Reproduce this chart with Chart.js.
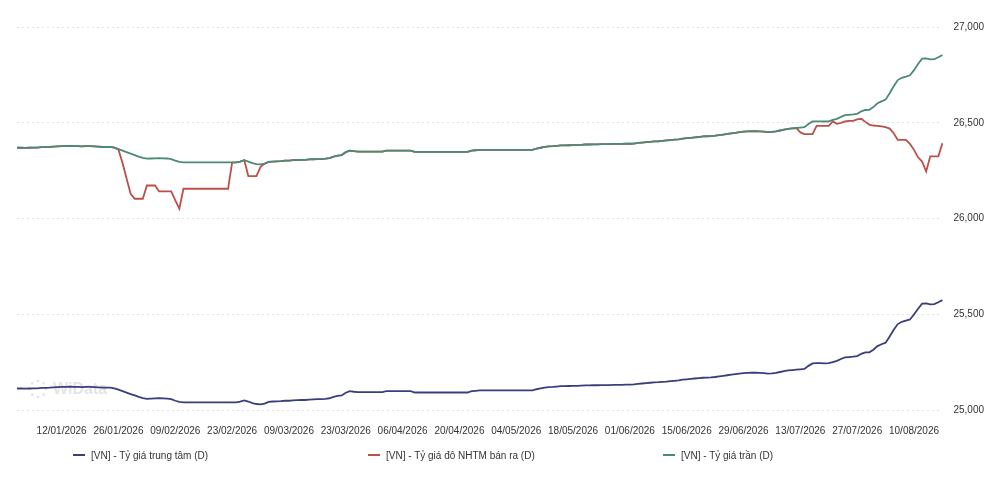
<!DOCTYPE html>
<html>
<head>
<meta charset="utf-8">
<script src="https://cdn.jsdelivr.net/npm/chart.js@4.4.1/dist/chart.umd.min.js"></script>
<style>
  html, body { margin: 0; padding: 0; background: #fff; }
  #wrap { position: relative; width: 1000px; height: 503px; }
  #legend {
    position: absolute; left: 73px; top: 448px;
    display: grid; grid-template-columns: repeat(3, 295px);
    font: 10px "Liberation Sans", Arial, sans-serif; color: #333;
  }
  #legend span.item { display: flex; align-items: center; height: 14px; }
  #legend span.mark { display: inline-block; width: 12px; height: 2px; margin-right: 6px; }
</style>
</head>
<body>
<div id="wrap">
  <canvas id="chart" width="1000" height="503"></canvas>
  <div id="legend"></div>
</div>
<script>
// daily categories, 01/01/2026 .. 17/08/2026
const startDate = Date.UTC(2026, 0, 1);
const dayCount = 229;
const dateLabels = [];
for (let i = 0; i < dayCount; i++) {
  const d = new Date(startDate + i * 86400000);
  const dd = String(d.getUTCDate()).padStart(2, "0");
  const mm = String(d.getUTCMonth() + 1).padStart(2, "0");
  dateLabels.push(dd + "/" + mm + "/" + d.getUTCFullYear());
}

const tickLabels = [
  "12/01/2026", "26/01/2026", "09/02/2026", "23/02/2026", "09/03/2026",
  "23/03/2026", "06/04/2026", "20/04/2026", "04/05/2026", "18/05/2026",
  "01/06/2026", "15/06/2026", "29/06/2026", "13/07/2026", "27/07/2026",
  "10/08/2026"
];

const yTicks = [25000, 25500, 26000, 26500, 27000];

const seriesNames = [
  "[VN] - Tỷ giá trung tâm (D)",
  "[VN] - Tỷ giá đô NHTM bán ra (D)",
  "[VN] - Tỷ giá trần (D)"
];

// Tỷ giá trung tâm
const centralRate = [
  25114, 25114, 25113, 25114, 25115, 25115, 25117, 25117, 25118, 25120,
  25121, 25122, 25122, 25123, 25122, 25122, 25121, 25122, 25122, 25121,
  25120, 25118, 25118, 25118, 25115, 25108, 25100, 25092, 25085, 25078,
  25070, 25064, 25060, 25061, 25062, 25063, 25062, 25061, 25058, 25050,
  25044, 25042, 25042, 25042, 25042, 25042, 25042, 25042, 25042, 25042,
  25042, 25042, 25042, 25042, 25042, 25046, 25052, 25046, 25038, 25033,
  25031, 25035, 25044, 25046, 25047, 25048, 25050, 25050, 25052, 25053,
  25054, 25054, 25056, 25057, 25058, 25058, 25060, 25063, 25070, 25075,
  25078, 25092, 25100, 25097, 25095, 25095, 25095, 25095, 25095, 25095,
  25095, 25100, 25100, 25100, 25100, 25100, 25100, 25100, 25093, 25093,
  25093, 25093, 25093, 25093, 25093, 25093, 25093, 25093, 25093, 25093,
  25093, 25093, 25100, 25102, 25104, 25104, 25104, 25104, 25104, 25104,
  25104, 25104, 25104, 25104, 25104, 25104, 25104, 25104, 25110, 25114,
  25118, 25121, 25122, 25124, 25126, 25126, 25127, 25128, 25128, 25129,
  25130, 25130, 25131, 25131, 25132, 25132, 25132, 25133, 25133, 25133,
  25134, 25134, 25135, 25138, 25140, 25142, 25144, 25146, 25147, 25149,
  25150, 25152, 25154, 25156, 25160, 25162, 25164, 25166, 25168, 25170,
  25171, 25172, 25174, 25177, 25180, 25183, 25186, 25189, 25192, 25194,
  25195, 25196, 25196, 25195, 25194, 25192, 25193, 25195, 25200, 25204,
  25208, 25210, 25212, 25214, 25216, 25232, 25245, 25246, 25246, 25245,
  25246, 25252, 25258, 25268, 25276, 25278, 25280, 25283, 25295, 25302,
  25303, 25316, 25335, 25345, 25353, 25385, 25420, 25450, 25462, 25468,
  25474, 25500, 25530, 25557, 25558, 25553, 25554, 25564, 25575
];

// Tỷ giá đô NHTM bán ra
const bankSellRate = [
  26370, 26370, 26369, 26370, 26371, 26371, 26373, 26373, 26374, 26376,
  26377, 26378, 26378, 26379, 26378, 26378, 26377, 26378, 26378, 26377,
  26376, 26374, 26374, 26374, 26371, 26360, 26290, 26210, 26130, 26104,
  26104, 26104, 26173, 26173, 26173, 26142, 26142, 26142, 26142, 26095,
  26052, 26156, 26156, 26156, 26156, 26156, 26156, 26156, 26156, 26156,
  26156, 26156, 26156, 26292, 26294, 26298, 26305, 26222, 26222, 26222,
  26270, 26287, 26296, 26298, 26299, 26300, 26303, 26303, 26305, 26306,
  26307, 26307, 26309, 26310, 26311, 26311, 26313, 26316, 26324, 26329,
  26332, 26347, 26355, 26352, 26350, 26350, 26350, 26350, 26350, 26350,
  26350, 26355, 26355, 26355, 26355, 26355, 26355, 26355, 26348, 26348,
  26348, 26348, 26348, 26348, 26348, 26348, 26348, 26348, 26348, 26348,
  26348, 26348, 26355, 26357, 26359, 26359, 26359, 26359, 26359, 26359,
  26359, 26359, 26359, 26359, 26359, 26359, 26359, 26359, 26366, 26370,
  26374, 26377, 26378, 26380, 26382, 26382, 26383, 26384, 26384, 26385,
  26387, 26387, 26388, 26388, 26389, 26389, 26389, 26390, 26390, 26390,
  26391, 26391, 26392, 26395, 26397, 26399, 26401, 26403, 26404, 26406,
  26408, 26410, 26412, 26414, 26418, 26420, 26422, 26424, 26426, 26429,
  26430, 26431, 26433, 26436, 26439, 26442, 26445, 26448, 26452, 26454,
  26455, 26456, 26456, 26455, 26454, 26452, 26453, 26455, 26460, 26464,
  26468, 26471, 26473, 26450, 26441, 26441, 26441, 26484, 26484, 26484,
  26484, 26507, 26495, 26500, 26507, 26510, 26510, 26518, 26521, 26505,
  26490, 26486, 26484, 26482, 26478, 26470, 26446, 26411, 26411, 26411,
  26390, 26359, 26320, 26298, 26246, 26325, 26325, 26325, 26394
];

// Tỷ giá trần
const ceilingRate = [
  26370, 26370, 26369, 26370, 26371, 26371, 26373, 26373, 26374, 26376,
  26377, 26378, 26378, 26379, 26378, 26378, 26377, 26378, 26378, 26377,
  26376, 26374, 26374, 26374, 26371, 26363, 26355, 26347, 26339, 26332,
  26324, 26317, 26313, 26314, 26315, 26316, 26315, 26314, 26311, 26303,
  26296, 26294, 26294, 26294, 26294, 26294, 26294, 26294, 26294, 26294,
  26294, 26294, 26294, 26294, 26294, 26298, 26305, 26298, 26290, 26285,
  26283, 26287, 26296, 26298, 26299, 26300, 26303, 26303, 26305, 26306,
  26307, 26307, 26309, 26310, 26311, 26311, 26313, 26316, 26324, 26329,
  26332, 26347, 26355, 26352, 26350, 26350, 26350, 26350, 26350, 26350,
  26350, 26355, 26355, 26355, 26355, 26355, 26355, 26355, 26348, 26348,
  26348, 26348, 26348, 26348, 26348, 26348, 26348, 26348, 26348, 26348,
  26348, 26348, 26355, 26357, 26359, 26359, 26359, 26359, 26359, 26359,
  26359, 26359, 26359, 26359, 26359, 26359, 26359, 26359, 26366, 26370,
  26374, 26377, 26378, 26380, 26382, 26382, 26383, 26384, 26384, 26385,
  26387, 26387, 26388, 26388, 26389, 26389, 26389, 26390, 26390, 26390,
  26391, 26391, 26392, 26395, 26397, 26399, 26401, 26403, 26404, 26406,
  26408, 26410, 26412, 26414, 26418, 26420, 26422, 26424, 26426, 26429,
  26430, 26431, 26433, 26436, 26439, 26442, 26445, 26448, 26452, 26454,
  26455, 26456, 26456, 26455, 26454, 26452, 26453, 26455, 26460, 26464,
  26468, 26471, 26473, 26475, 26477, 26494, 26507, 26508, 26508, 26507,
  26508, 26515, 26521, 26531, 26540, 26542, 26544, 26547, 26560, 26567,
  26568, 26582, 26602, 26612, 26621, 26654, 26691, 26723, 26735, 26741,
  26748, 26775, 26807, 26835, 26836, 26831, 26832, 26842, 26854
];

const seriesColors = ["#3b3e7d", "#bb4f4a", "#4b8a75"];

const FONT = "'Liberation Sans', Arial, sans-serif";

// faint WiData watermark, bottom left of the plot
const watermark = {
  id: "watermark",
  beforeDatasetsDraw(chart) {
    const ctx = chart.ctx;
    const x = chart.chartArea.left + 21, y = 389;
    ctx.save();
    ctx.fillStyle = "rgba(195,203,212,0.5)";
    for (let k = 0; k < 8; k++) {
      const a = k * Math.PI / 4;
      ctx.beginPath();
      ctx.arc(x + Math.cos(a) * 8, y + Math.sin(a) * 8, 1.3, 0, Math.PI * 2);
      ctx.fill();
    }
    ctx.font = "bold 16px " + FONT;
    ctx.textBaseline = "middle";
    ctx.fillText("WiData", x + 15, y + 1);
    ctx.restore();
  }
};

const lineStyle = { pointRadius: 0, borderWidth: 1.8, tension: 0, fill: false };

const chart = new Chart(document.getElementById("chart"), {
  type: "line",
  data: {
    labels: dateLabels,
    datasets: [
      { label: seriesNames[0], data: centralRate, borderColor: seriesColors[0], order: 0, ...lineStyle },
      { label: seriesNames[1], data: bankSellRate, borderColor: seriesColors[1], order: 2, ...lineStyle },
      { label: seriesNames[2], data: ceilingRate, borderColor: seriesColors[2], order: 1, ...lineStyle }
    ]
  },
  options: {
    responsive: false,
    animation: false,
    layout: { padding: { left: 17, right: 5, top: 27, bottom: 59 } },
    plugins: { legend: { display: false }, tooltip: { enabled: false } },
    scales: {
      x: {
        grid: { display: false, drawTicks: false },
        border: { display: false },
        afterBuildTicks(scale) {
          scale.ticks = scale.ticks.filter(t => tickLabels.includes(dateLabels[t.value]));
        },
        ticks: {
          autoSkip: false, maxRotation: 0, padding: 7,
          color: "#333", font: { family: FONT, size: 10 }
        }
      },
      y: {
        position: "right",
        min: 24960,
        max: 27000,
        afterBuildTicks(scale) {
          scale.ticks = yTicks.map(v => ({ value: v }));
        },
        grid: { color: "#e2e2e2", drawTicks: false },
        border: { display: false, dash: [2, 3] },
        ticks: {
          padding: 11,
          color: "#333", font: { family: FONT, size: 10 }
        }
      }
    }
  },
  plugins: [watermark]
});

// legend under the plot, three evenly spaced columns
const legendBox = document.getElementById("legend");
chart.data.datasets.forEach(ds => {
  const item = document.createElement("span");
  item.className = "item";
  const mark = document.createElement("span");
  mark.className = "mark";
  mark.style.background = ds.borderColor;
  item.appendChild(mark);
  item.appendChild(document.createTextNode(ds.label));
  legendBox.appendChild(item);
});
</script>
</body>
</html>
